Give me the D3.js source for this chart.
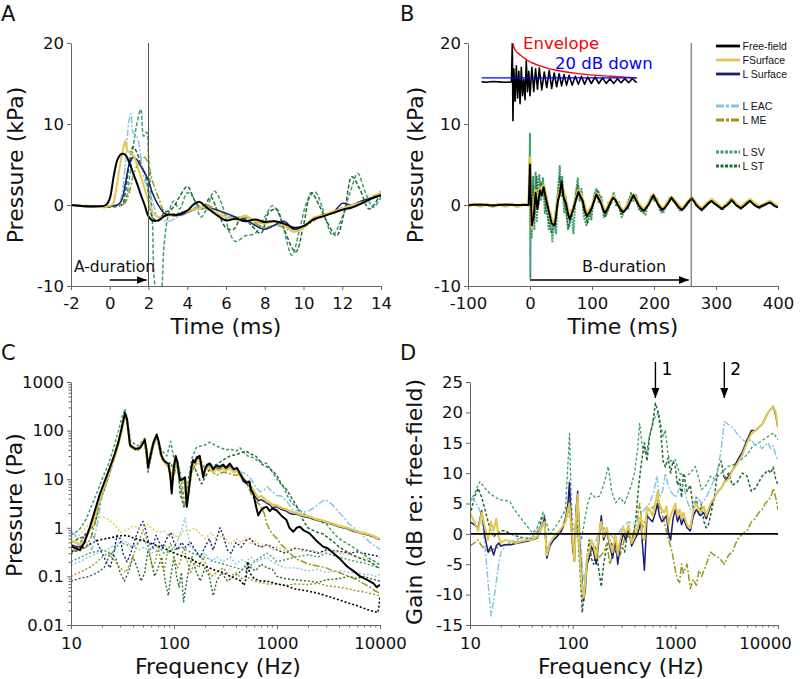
<!DOCTYPE html>
<meta charset="utf-8">
<head>
<style>
  body { margin: 0; background: #fff; }
  svg { font-family: "DejaVu Sans", Verdana, sans-serif; }
  .domain { stroke: #666; }
  .tick line { stroke: #666; }
  .tick text { font-size: 16.5px; fill: #111; font-family: "DejaVu Sans", Verdana, sans-serif; }
  .ttl { font-size: 22px; fill: #111; }
  .lbl { font-size: 21px; fill: #111; }
  .lg text { font-family: "Liberation Sans", Arial, sans-serif; font-size: 10.5px; fill: #111; }
  .note { font-size: 15.5px; fill: #111; }
</style>
<script src="https://cdn.jsdelivr.net/npm/d3@7"></script>
</head>
<body>
<script>
// ---------- tick labels ----------
var aXTicks = [-2, 0, 2, 4, 6, 8, 10, 12, 14];
var bXTicks = [-100, 0, 100, 200, 300, 400];
var abYTicks = [-10, 0, 10, 20];
var freqTicks = [10, 100, 1000, 10000];
var cYTicks = [0.01, 0.1, 1, 10, 100, 1000];
var dYTicks = [-15, -10, -5, 0, 5, 10, 15, 20, 25];
var legendNames = ["Free-field", "FSurface", "L Surface", "L EAC", "L ME", "L SV", "L ST"];

// ---------- A: time (ms), pressure (kPa) ----------
var aFF = [[-2,0],[-0.2,0],[0,0.8],[0.2,3.5],[0.4,5.6],[0.6,6.3],[0.8,6.2],[1.0,5.3],[1.2,4.0],[1.4,2.7],[1.6,1.3],[1.8,0],[2.0,-1.4],[2.2,-1.9],[2.5,-1.9],[2.8,-1.4],[3.0,-1.2],[3.5,-1.2],[4.0,-0.7],[4.3,0.0],[4.6,0.4],[5.0,-0.3],[5.5,-1.2],[6.0,-1.9],[6.5,-1.7],[7.0,-2.0],[7.5,-1.8],[8.0,-2.1],[8.5,-2.0],[9.0,-2.3],[9.5,-2.8],[10,-2.6],[10.5,-1.8],[11,-1.4],[11.5,-1.0],[12,-0.6],[12.5,-0.3],[13,0.2],[13.5,0.8],[14,1.2]];
var aFS = [[-2,0],[0.1,0],[0.3,1.5],[0.5,4.5],[0.7,7.0],[0.8,7.9],[0.9,6.8],[1.0,6.5],[1.2,6.2],[1.4,5.0],[1.6,3.5],[1.8,2.0],[2.0,0.5],[2.2,-0.8],[2.5,-1.5],[3.0,-1.3],[3.5,-1.2],[4.0,-0.8],[4.5,-0.5],[5.0,-0.3],[5.5,-1.0],[6.0,-1.5],[6.5,-1.8],[7.0,-1.3],[7.5,-2.0],[8.0,-2.3],[8.5,-2.0],[9.0,-2.5],[9.5,-3.3],[10,-2.8],[10.5,-1.6],[11,-1.3],[11.5,-0.8],[12,-0.5],[12.5,0],[13,0.3],[13.5,0.8],[14,1.5]];
var aLS = [[-2,0],[0.4,0],[0.6,0.5],[0.8,2.5],[1.0,5.0],[1.2,5.9],[1.4,5.6],[1.6,4.8],[1.8,4.0],[2.0,3.0],[2.2,1.5],[2.5,0.0],[2.8,-1.0],[3.0,-1.2],[3.5,-1.3],[4.0,-0.9],[4.5,-0.5],[5.0,-0.3],[5.5,-0.6],[6.0,-1.0],[6.5,-1.5],[7.0,-1.8],[7.5,-2.5],[8.0,-3.0],[8.5,-2.5],[9.0,-2.0],[9.5,-3.0],[10,-2.7],[10.5,-1.8],[11,-1.2],[11.5,-1.0],[12,0.2],[12.5,0],[13,0.5],[13.5,0.8],[14,1.2]];
var aEAC = [[-2,0],[0.4,0],[0.6,1],[0.8,5],[1.0,10.5],[1.1,11.3],[1.2,9],[1.4,8.5],[1.6,6],[1.8,3],[2.0,2],[2.2,0.5],[2.5,-1.5],[3.0,-2],[3.5,-1.5],[4.0,-1.0],[4.5,-0.2],[5.0,-0.5],[5.5,-1.2],[6.0,-1.3],[6.5,-1.8],[7.0,-2.0],[7.5,-2.5],[8.0,-3.0],[8.5,-2.5],[9.0,-2.5],[9.5,-3.0],[10,-2.5],[10.5,-1.8],[11,-1.5],[11.5,-0.8],[12,-0.3],[12.5,0],[13,0.2],[13.5,0.6],[14,1.8]];
var aME = [[-2,0],[0.6,0],[0.8,0.3],[1.0,1.5],[1.2,3.5],[1.4,4.8],[1.6,5.5],[1.8,5.9],[2.0,5.0],[2.2,3.0],[2.5,1.0],[2.8,-0.8],[3.0,-1.2],[3.5,-1.0],[4.0,-0.7],[4.5,-0.3],[5.0,0.0],[5.5,-0.5],[6.0,-1.2],[6.5,-1.5],[7.0,-1.5],[7.5,-2.2],[8.0,-2.8],[8.5,-2.5],[9.0,-2.8],[9.5,-3.3],[10,-2.8],[10.5,-2.0],[11,-1.2],[11.5,-1.0],[12,-0.6],[12.5,0],[13,0.5],[13.5,1.0],[14,1.5]];
var aSV = [[-2,0],[0.6,0],[0.8,0.5],[1.0,3],[1.2,7],[1.4,10],[1.6,11.8],[1.75,8.5],[1.9,9.0],[2.0,6],[2.2,-2],[2.4,-10.5],[2.6,-11],[2.8,-5],[3.0,-1.5],[3.3,0.5],[3.6,-0.5],[4.0,1.5],[4.3,1.0],[4.7,-1.5],[5.0,-0.5],[5.4,1.7],[5.8,0],[6.2,-3.5],[6.5,-4.5],[7.0,-3.8],[7.5,-3.5],[8.0,-1.5],[8.4,-0.1],[8.8,-1.5],[9.4,-6.2],[9.8,-3],[10.2,0.5],[10.6,1.6],[11.0,-0.5],[11.5,-3.7],[12.0,-1.5],[12.4,1.5],[12.8,3.9],[13.2,1.5],[13.6,-0.3],[14,1.0]];
var aST = [[-2,0],[0.6,0],[0.8,1.5],[1.0,5],[1.2,7.2],[1.4,6.5],[1.6,5],[1.8,4],[2.0,1.5],[2.2,-1.5],[2.5,-2],[2.8,-1],[3.2,-0.5],[3.6,1.0],[4.0,2.3],[4.4,0.5],[4.8,-0.5],[5.2,1.0],[5.6,-1],[6.0,-2.8],[6.4,-3.0],[6.8,-1.5],[7.3,-2.5],[7.8,-3.5],[8.2,-1.0],[8.6,-0.5],[9.0,-3],[9.6,-5.8],[10.0,-2.5],[10.4,1.5],[10.8,0],[11.2,-2.0],[11.7,-3.8],[12.1,-1],[12.5,3.5],[12.9,2],[13.4,-0.5],[14,1.5]];

// ---------- B: time (ms), pressure (kPa) ----------
var bFF = [[-100,0],[-80,0.05],[-60,-0.05],[-40,0.05],[-20,0],[-2,0],[0,5.0],[1,1.5],[3,-2.5],[6,-1.5],[9,1.5],[12,-0.5],[16,1.8],[19,1.2],[22,2.2],[25,1.0],[28,0.0],[31,-1.0],[35,-2.3],[40,-2.5],[43,-0.8],[45,0.5],[48,1.4],[51,2.9],[54,1.0],[58,0.2],[61,-1.0],[64,-1.8],[67,-1.2],[70,-0.5],[74,0.6],[78,1.6],[81,1.1],[85,0.5],[88,-0.6],[92,-1.4],[96,-0.9],[100,-0.3],[104,0.6],[107,1.3],[110,0.9],[114,0.3],[118,-0.6],[121,-1.0],[125,-0.5],[128,0.0],[131,0.5],[134,0.9],[138,0.6],[141,0.1],[146,-0.5],[150,-0.9],[154,-0.6],[158,-0.2],[163,0.6],[167,1.2],[171,0.6],[175,0.0],[180,-0.5],[184,-0.7],[188,-0.3],[191,0.0],[195,0.6],[199,1.2],[203,0.6],[206,0.1],[210,-0.3],[214,-0.6],[218,-0.3],[221,0.0],[225,0.5],[228,0.9],[232,0.5],[236,0.1],[240,-0.3],[245,-0.6],[249,-0.3],[253,0.1],[257,0.5],[261,0.8],[265,0.4],[268,0.0],[272,-0.3],[277,-0.6],[281,-0.3],[285,0.0],[289,0.3],[293,0.5],[297,0.2],[301,0.0],[306,-0.3],[310,-0.5],[314,-0.2],[318,0.0],[322,0.3],[325,0.6],[329,0.3],[332,0.0],[336,-0.2],[340,-0.4],[344,-0.2],[347,0.0],[351,0.3],[355,0.5],[359,0.2],[362,0.0],[366,-0.2],[370,-0.3],[374,-0.1],[378,0.0],[383,0.2],[387,0.3],[391,0.1],[394,-0.1],[400,-0.3]];
var bFS = [[-100,-0.2],[-90,0.1],[-80,-0.15],[-70,0.1],[-60,-0.2],[-50,0.1],[-40,-0.15],[-30,0.1],[-20,-0.2],[-10,0.1],[-2,0],[0,5.8],[1,1.5],[3,-2.8],[6,-1.0],[9,1.8],[12,-0.3],[16,2.0],[22,2.4],[28,0.2],[35,-2.0],[40,-2.2],[45,0.8],[51,2.6],[58,0.4],[64,-1.6],[70,-0.3],[78,1.8],[85,0.7],[92,-1.2],[100,-0.1],[107,1.4],[114,0.5],[121,-0.9],[128,0.2],[134,1.1],[141,0.3],[150,-0.8],[158,0.0],[167,1.3],[175,0.2],[184,-0.6],[191,0.2],[199,1.3],[206,0.3],[214,-0.5],[221,0.2],[228,1.0],[236,0.3],[245,-0.5],[253,0.3],[261,0.9],[268,0.2],[277,-0.5],[285,0.2],[293,0.7],[301,0.2],[310,-0.4],[318,0.2],[325,0.8],[332,0.2],[340,-0.3],[347,0.2],[355,0.7],[362,0.2],[370,-0.2],[378,0.1],[387,0.5],[394,0.1],[400,-0.2]];
var bSV = [[-100,0],[-2,0],[0,8.8],[0.5,-9],[1.5,3],[3,-4],[5,3.5],[7,-3],[9,4],[11,-2],[13,1],[15,3.8],[18,0.5],[21,3.3],[24,-1],[27,1],[30,-3],[33,-1],[36,-4.5],[39,-2],[42,-3.5],[45,1.5],[48,4.8],[50,1],[52,3.5],[55,-1],[58,1],[61,-3],[64,-2.5],[67,-0.5],[70,-3.5],[74,1.5],[77,3.3],[80,0.5],[83,2.0],[87,-1.5],[91,-2.5],[95,-0.5],[99,-1.8],[103,1.0],[107,2.0],[111,0.2],[115,1.0],[119,-1.5],[123,-1.2],[127,0.5],[131,0.2],[135,1.6],[139,-0.2],[143,0.5],[148,-1.5],[153,-0.6],[158,-0.5],[163,1.5],[167,0.5],[171,1.2],[176,-0.6],[181,-0.8],[186,-1.2],[191,0.3],[196,1.2],[200,0.5],[205,0.8],[210,-0.8],[215,-1.0],[220,0.2],[226,1.0],[230,0.6],[236,0.0],[243,-0.8],[250,-0.3],[256,0.5],[262,0.9],[268,0.2],[277,-0.7],[285,0.2],[293,0.6],[301,0.0],[310,-0.6],[318,0.1],[325,0.7],[332,0.0],[340,-0.5],[347,0.1],[355,0.5],[362,0.0],[370,-0.4],[378,0.0],[387,0.4],[394,0.0],[400,-0.3]];
var bST = [[-100,0],[-2,0],[0,4],[1,-3],[3,-1],[5,2.5],[8,-1],[11,3.5],[14,0],[18,2.8],[22,1.5],[26,-0.5],[30,-2],[35,-3.5],[40,-1.5],[44,1],[48,3.5],[52,2],[57,-0.5],[62,-2.8],[67,-1],[72,0.5],[77,2.5],[82,1],[88,-1],[93,-2.2],[99,-0.8],[105,1.5],[110,1.8],[116,0.3],[121,-1.5],[127,-0.5],[134,1.2],[140,0.5],[147,-1.2],[153,-0.5],[160,0.8],[166,1.4],[172,0.3],[180,-0.9],[188,-0.3],[196,1.0],[204,0.5],[212,-0.8],[220,0.0],[228,0.9],[236,0.2],[245,-0.6],[253,0.0],[261,0.8],[270,0.0],[280,-0.5],[290,0.3],[300,0.3],[310,-0.5],[320,0.1],[326,0.6],[336,-0.2],[345,-0.2],[355,0.5],[365,-0.1],[375,-0.2],[387,0.3],[400,-0.3]];
// inset: free-field trace shifted up, its envelope and the 20 dB down level
var bInset = [[-78,15.2],[-70,15.15],[-60,15.25],[-50,15.2],[-40,15.15],[-30,15.2],[-28.5,20],[-27.5,10.4],[-26,16.8],[-24,12.8],[-22,17.2],[-20,13.2],[-18,16.5],[-16,12.5],[-14,17.0],[-12,13.5],[-10,15.5],[-8,13.0],[-6,17.8],[-4,14.0],[-2,16.5],[0,13.5],[3,17.0],[6,14.0],[9,16.8],[12,14.3],[15,16.9],[19,14.2],[23,16.4],[27,14.5],[31,16.6],[35,14.4],[39,16.3],[43,14.6],[47,16.2],[51,14.7],[55,16.1],[59,14.8],[63,16.0],[68,14.8],[73,15.9],[78,14.9],[83,15.9],[88,14.9],[93,15.8],[99,15.0],[105,15.8],[111,15.0],[117,15.7],[123,15.0],[129,15.6],[135,15.0],[141,15.6],[147,15.1],[153,15.6],[159,15.1],[165,15.6],[172,15.1]];
var bEnvelope = [[-28,20],[-25,19.3],[-20,18.8],[-12,18.3],[-5,17.9],[5,17.5],[15,17.2],[27,16.9],[45,16.6],[75,16.25],[110,16.0],[140,15.85],[172,15.7]];
var bDown = [[-78,15.7],[172,15.7]];

// ---------- C: frequency (Hz), pressure (Pa) ----------
var cFF = [[10,0.42],[11,0.38],[12.2,0.35],[13.5,0.5],[15.3,1.05],[17,2.2],[19.1,5],[22,11],[24,18],[26.7,34],[29,60],[31,110],[33.4,230],[35,170],[37.4,50],[42,42],[46.7,44],[50,55],[52,65],[54,40],[56,18],[59,30],[63,55],[67.9,82],[71,60],[75,32],[78.8,25],[84,22],[88,21],[92,12],[95,5.1],[99,16],[104,30],[108,22],[114,9.5],[121,10],[128,11],[133,2.7],[138,5],[143,9.5],[148,18],[154,25],[160,22],[166,28],[178,30],[185,18],[192,11],[200,16],[210,20],[223,21],[240,16],[255,19],[279,18],[300,20],[320,17],[348,21],[380,16],[410,17],[437,13],[470,10],[508,8.5],[540,9],[560,6],[590,5.1],[620,3],[658,1.8],[700,2.3],[750,2.6],[795,2.7],[850,2.2],[900,2.5],[990,2.3],[1100,1.8],[1235,1.45],[1320,1.0],[1440,0.83],[1550,1.0],[1670,1.05],[1800,0.9],[2070,0.77],[2400,0.55],[2800,0.41],[3100,0.38],[3530,0.3],[4000,0.24],[4800,0.16],[5500,0.13],[6420,0.1],[7500,0.085],[8640,0.072],[9300,0.06],[10000,0.067]];
var cFS = [[10,0.55],[11,0.5],[12.2,0.45],[13.5,0.55],[15.3,0.95],[17,1.8],[19.1,4.2],[22,9.5],[24,16],[26.7,30],[29,55],[31,100],[33.4,210],[35,165],[37.4,52],[42,40],[46.7,46],[50,58],[52,60],[54,38],[56,20],[59,32],[63,58],[67.9,78],[71,58],[75,30],[78.8,24],[84,20],[88,19],[92,13],[95,8],[99,18],[104,28],[108,20],[114,9],[121,9],[128,10],[133,3],[138,6],[143,10],[148,17],[154,22],[160,20],[166,24],[178,25],[185,17],[192,12],[200,15],[210,17],[223,18],[240,14],[255,16],[279,15],[300,17],[320,15],[348,17],[380,14],[410,15],[437,12],[470,10],[508,9],[540,8],[560,7],[590,6],[620,5],[658,4.2],[700,4.5],[750,4.0],[795,3.5],[850,3.3],[900,3.0],[990,2.9],[1100,2.6],[1235,2.4],[1320,2.2],[1440,2.1],[1550,2.0],[1670,1.9],[1800,1.8],[2070,1.7],[2400,1.5],[2800,1.4],[3100,1.3],[3530,1.2],[4000,1.1],[4800,1.0],[5500,0.9],[6420,0.8],[7500,0.75],[8640,0.68],[9300,0.62],[10000,0.6]];
var cLS = [[10,0.45],[11,0.42],[12.2,0.4],[13.5,0.5],[15.3,1.0],[17,2.0],[19.1,4.6],[22,10],[24,17],[26.7,32],[29,58],[31,105],[33.4,220],[35,168],[37.4,50],[42,41],[46.7,45],[50,56],[52,62],[54,39],[56,17],[59,31],[63,56],[67.9,80],[71,59],[75,31],[78.8,24],[84,21],[88,20],[92,12],[95,6],[99,17],[104,29],[108,21],[114,9],[121,9.5],[128,10],[133,2.8],[138,5.5],[143,10],[148,17],[154,23],[160,21],[166,26],[178,27],[185,17],[192,11],[200,15],[210,18],[223,19],[240,14],[255,17],[279,16],[300,18],[320,15],[348,18],[380,14],[410,15],[437,12],[470,9],[508,8],[540,7.5],[560,6],[590,5],[620,4.3],[658,3.6],[700,3.8],[750,3.5],[795,3.2],[850,3.0],[900,2.6],[990,2.7],[1100,2.4],[1235,2.2],[1320,2.0],[1440,1.9],[1550,1.9],[1670,1.8],[1800,1.7],[2070,1.6],[2400,1.45],[2800,1.35],[3100,1.25],[3530,1.15],[4000,1.05],[4800,0.95],[5500,0.85],[6420,0.78],[7500,0.72],[8640,0.65],[9300,0.6],[10000,0.58]];
var cEAC = [[10,0.85],[12,0.6],[14,0.5],[16,0.35],[18,1.2],[20,4.5],[24,15],[27,32],[30,80],[33.4,220],[35,160],[38,48],[45,42],[50,58],[52,62],[56,16],[60,30],[68,80],[75,32],[85,22],[93,18],[100,16],[108,25],[115,12],[125,8],[133,3.5],[140,7],[150,18],[165,25],[180,25],[200,18],[230,20],[260,17],[300,19],[350,18],[400,16],[450,14],[500,13],[560,10],[620,7],[680,5.5],[750,6],[800,7],[900,5.5],[1000,4.6],[1100,4.5],[1250,3.5],[1400,2.4],[1600,2.2],[1800,2.1],[2000,2.2],[2300,2.6],[2600,3.2],[2900,3.8],[3100,3.6],[3500,2.9],[4000,2.1],[4500,1.6],[5000,1.2],[6000,0.9],[7000,0.65],[8000,0.5],[9000,0.42],[10000,0.36]];
var cME = [[10,0.35],[12,0.33],[14,0.4],[16,0.7],[19,3.5],[22,8],[26,28],[30,80],[33.4,200],[35,150],[38,45],[45,40],[52,60],[56,15],[63,50],[68,75],[75,30],[85,20],[93,14],[100,12],[108,22],[115,8],[125,3],[133,3],[140,6],[150,15],[170,22],[200,17],[230,15],[260,12],[300,14],[350,13],[400,12],[450,13],[500,9],[560,5],[620,3.5],[680,3.0],[750,2.0],[800,1.2],[850,0.9],[900,0.75],[1000,0.6],[1100,0.45],[1250,0.35],[1400,0.27],[1600,0.22],[1800,0.2],[2000,0.18],[2300,0.17],[2600,0.16],[3000,0.15],[3500,0.13],[4000,0.12],[5000,0.1],[6000,0.085],[7000,0.07],[8000,0.06],[9000,0.05],[10000,0.045]];
var cSV = [[10,0.7],[12,0.9],[14,1.5],[16,3],[18,5.5],[20,10],[23,20],[26,45],[29,100],[31,180],[33.4,280],[35,180],[38,60],[45,48],[50,62],[52,70],[56,22],[63,60],[68,85],[75,40],[85,30],[93,60],[100,25],[108,24],[115,14],[125,4],[133,3],[140,12],[150,28],[165,45],[180,48],[200,50],[223,58],[250,50],[280,45],[320,40],[350,42],[400,38],[440,44],[480,35],[520,30],[580,28],[650,24],[720,22],[800,21],[900,14],[1000,10],[1150,7],[1300,4],[1450,3],[1670,2.3],[1900,1.8],[2200,1.5],[2500,1.4],[3000,1.2],[3500,0.8],[4000,0.6],[5000,0.45],[6000,0.35],[7000,0.28],[8000,0.23],[9000,0.2],[10000,0.17]];
var cST = [[10,0.5],[12,0.6],[14,0.7],[17,1.2],[20,4.5],[24,14],[27,32],[30,80],[33.4,220],[35,160],[38,48],[45,40],[52,58],[56,14],[63,50],[68,75],[75,28],[85,20],[93,22],[100,15],[108,20],[115,5],[125,2.7],[133,4],[140,12],[155,20],[170,12],[185,8],[200,11],[230,18],[260,20],[300,25],[350,30],[400,32],[450,35],[500,38],[560,33],[620,30],[680,24],[720,20],[800,18],[900,15],[1000,12],[1100,8],[1250,6],[1400,4],[1600,2.5],[1800,1.4],[2000,1.0],[2200,0.9],[2500,0.8],[2800,0.75],[3200,0.6],[3600,0.5],[4000,0.4],[5000,0.3],[6000,0.25],[7000,0.22],[8000,0.2],[9000,0.17],[10000,0.14]];
// C noise floors (dotted)
var cFFn = [[10,0.32],[12,0.35],[15,0.45],[18,0.55],[22,0.6],[27,0.65],[32,0.7],[36,0.68],[42,0.6],[50,0.55],[60,0.48],[70,0.42],[80,0.38],[95,0.32],[110,0.28],[130,0.25],[150,0.22],[180,0.18],[220,0.15],[260,0.13],[300,0.12],[350,0.1],[400,0.09],[450,0.08],[480,0.065],[500,0.09],[520,0.2],[540,0.12],[600,0.09],[700,0.08],[800,0.08],[900,0.075],[1000,0.07],[1200,0.065],[1500,0.055],[2000,0.05],[2500,0.045],[3000,0.04],[4000,0.033],[5000,0.028],[6000,0.025],[7000,0.022],[8000,0.02],[9500,0.018],[9800,0.025],[10000,0.04]];
var cFSn = [[10,0.6],[12,0.7],[15,1.2],[18,1.6],[20,1.7],[23,1.5],[27,1.1],[30,0.8],[35,0.9],[40,1.1],[45,1.0],[50,0.9],[55,1.2],[60,1.0],[70,0.8],[80,0.85],[90,0.65],[100,0.75],[110,0.6],[125,0.9],[140,0.85],[160,1.0],[180,0.75],[200,0.6],[230,0.8],[260,0.55],[300,0.7],[350,0.45],[400,0.6],[450,0.5],[500,0.65],[560,0.45],[620,0.55],[700,0.4],[800,0.45],[900,0.35],[1000,0.4],[1200,0.33],[1500,0.4],[1800,0.32],[2200,0.35],[2700,0.3],[3200,0.35],[4000,0.3],[5000,0.28],[6000,0.25],[7000,0.24],[8000,0.22],[9000,0.2],[10000,0.18]];
var cLSn = [[10,0.28],[12,0.45],[14,0.8],[16,0.75],[18,0.5],[20,0.3],[22,0.2],[24,0.15],[26,0.3],[28,0.7],[30,0.6],[32,0.3],[35,0.2],[38,0.3],[42,0.6],[46,1.0],[50,1.35],[53,0.9],[57,0.5],[62,0.4],[67,0.7],[72,0.5],[78,0.4],[85,0.6],[93,0.8],[100,0.5],[108,0.35],[118,0.5],[130,0.4],[145,0.5],[160,0.35],[180,0.25],[200,0.4],[220,0.6],[240,0.35],[260,0.6],[280,1.0],[300,0.7],[330,0.35],[360,0.3],[400,0.5],[450,0.4],[500,0.55],[550,0.6],[620,0.45],[700,0.4],[800,0.45],[900,0.4],[1000,0.35],[1200,0.3],[1500,0.38],[2000,0.34],[2500,0.3],[3000,0.35],[4000,0.33],[5000,0.3],[6000,0.32],[7000,0.3],[8000,0.28],[9000,0.27],[10000,0.25]];
var cEACn = [[10,0.17],[12,0.2],[15,0.25],[18,0.3],[22,0.35],[27,0.45],[32,0.55],[38,0.45],[45,0.35],[52,0.4],[60,0.3],[70,0.35],[80,0.45],[90,0.3],[100,0.4],[110,0.6],[120,1.0],[128,1.6],[135,0.8],[145,0.4],[160,0.35],[180,0.25],[200,0.3],[230,0.2],[260,0.25],[300,0.2],[350,0.25],[400,0.18],[450,0.22],[500,0.2],[560,0.25],[620,0.2],[700,0.22],[800,0.25],[900,0.2],[1000,0.18],[1200,0.15],[1500,0.15],[2000,0.13],[2500,0.14],[3000,0.12],[4000,0.13],[5000,0.12],[6000,0.12],[7000,0.11],[8000,0.11],[9000,0.1],[10000,0.11]];
var cMEn = [[10,0.1],[12,0.12],[15,0.15],[18,0.2],[20,0.25],[23,0.3],[26,0.22],[30,0.15],[34,0.12],[38,0.2],[42,0.35],[46,0.55],[50,0.9],[54,0.6],[58,0.3],[62,0.15],[66,0.2],[70,0.4],[75,0.2],[80,0.12],[86,0.3],[93,0.5],[100,0.25],[108,0.15],[115,0.2],[125,0.4],[135,0.2],[145,0.12],[160,0.2],[175,0.15],[190,0.25],[210,0.15],[230,0.1],[260,0.12],[300,0.15],[350,0.1],[400,0.12],[450,0.09],[500,0.1],[600,0.08],[700,0.075],[800,0.07],[1000,0.07],[1200,0.065],[1500,0.07],[2000,0.068],[2500,0.072],[3000,0.065],[4000,0.06],[5000,0.055],[6000,0.05],[7000,0.048],[8000,0.045],[9000,0.042],[10000,0.04]];
var cSVn = [[10,0.2],[15,0.3],[20,0.35],[25,0.3],[30,0.5],[40,0.4],[50,0.6],[60,0.35],[70,0.45],[80,0.3],[100,0.35],[120,0.4],[150,0.3],[200,0.25],[250,0.2],[300,0.18],[400,0.15],[500,0.13],[600,0.2],[700,0.25],[800,0.3],[900,0.25],[1000,0.2],[1200,0.22],[1500,0.25],[2000,0.28],[2500,0.25],[3000,0.3],[4000,0.25],[5000,0.22],[6000,0.2],[7000,0.19],[8000,0.17],[9000,0.16],[10000,0.15]];
var cSTn = [[10,0.08],[12,0.09],[15,0.1],[18,0.12],[21,0.15],[24,0.3],[27,0.25],[30,0.12],[33,0.08],[36,0.12],[40,0.25],[44,0.15],[48,0.08],[52,0.12],[56,0.35],[60,0.2],[65,0.1],[70,0.15],[76,0.25],[82,0.08],[88,0.04],[93,0.1],[100,0.25],[106,0.1],[112,0.06],[118,0.12],[124,0.03],[130,0.06],[140,0.15],[150,0.25],[165,0.12],[180,0.08],[200,0.15],[220,0.1],[240,0.04],[260,0.08],[290,0.12],[330,0.08],[380,0.1],[430,0.12],[480,0.15],[520,0.2],[560,0.15],[620,0.13],[700,0.18],[800,0.15],[900,0.14],[1000,0.1],[1200,0.09],[1500,0.085],[2000,0.08],[2500,0.075],[3000,0.085],[4000,0.09],[5000,0.1],[6000,0.09],[7000,0.1],[8000,0.09],[9000,0.085],[10000,0.08]];

// ---------- D: frequency (Hz), gain (dB re free-field) ----------
var dFS = [[10,3.5],[11,2],[12,0.5],[13,3.5],[14,1],[15,-1],[16,2],[17,0.5],[18,2.5],[19,-0.5],[20,-1.5],[22,-1],[25,-1.2],[28,-1.5],[32,-1.2],[36,-1],[40,-1],[45,-0.5],[50,1],[53,2],[56,-3.5],[60,-1.5],[65,-0.5],[70,0],[78,1],[85,2],[90,4],[93,5],[96,2],[100,-1],[104,-4.5],[108,3],[112,6.5],[116,-2],[122,-8],[128,-10.5],[133,-8],[138,-4],[145,-3],[152,-1],[160,-2],[170,-4],[180,0],[190,2],[200,-0.5],[215,1],[230,-1.5],[245,-3],[260,0],[275,-3.5],[290,-1],[310,1],[330,0],[350,1.5],[375,-1.5],[400,-0.5],[430,1],[460,3],[480,-0.5],[500,-1],[530,4.5],[560,4],[600,3],[640,5],[670,7],[700,5],[740,4],[780,3.5],[820,4.5],[860,1.5],[900,3],[950,4],[1000,5],[1050,3],[1100,4],[1150,2.5],[1200,3.5],[1300,1.5],[1400,1],[1500,4],[1600,5],[1750,3.5],[1900,4.5],[2000,3],[2200,5],[2400,6],[2600,7],[2800,7.5],[3000,8.5],[3300,9],[3600,10.5],[4000,11.5],[4500,13],[5000,15],[5500,16.5],[6000,17],[6500,17.5],[7000,18],[7500,19],[8000,20],[8500,20.5],[9000,21],[9500,20],[10000,17.5]];
var dLS = [[10,2],[11,1.5],[12,1],[13,3.8],[14,-0.5],[15,-3],[16,-2],[17,-3.5],[18,-2],[19,-1.5],[20,-2],[22,-1.8],[25,-1.8],[28,-1.6],[32,-1.4],[36,-1.2],[40,-1.0],[45,-0.7],[50,1],[53,2.5],[56,-4],[60,-2],[65,-1],[70,-0.5],[78,0.5],[85,2.5],[90,5],[93,8.5],[96,3],[100,-2],[104,-4.5],[108,4],[112,7],[116,-1],[122,-7],[128,-11],[133,-9],[138,-5],[145,-4],[152,-2],[160,-3],[170,-5],[180,-1],[190,3],[200,-1],[215,0.5],[230,-2],[245,-4],[260,-1],[275,-5],[290,-2],[310,0],[330,-1],[350,1],[375,-2],[400,-1],[430,0],[460,2],[480,-2],[500,-6],[530,3],[560,2.5],[600,2],[640,3.5],[670,5],[700,3],[740,2],[780,2.5],[820,3],[860,0],[900,-1],[950,2.5],[1000,4],[1050,2],[1100,3],[1150,1.5],[1200,2.5],[1300,1],[1400,0.5],[1500,3],[1600,4],[1750,3],[1900,3.5],[2000,2.5],[2200,4.5],[2400,6],[2600,7],[2800,7.5],[3000,8.5],[3300,9.5],[3600,10.5],[4000,12],[4500,13.5],[5000,15.5],[5500,17],[6000,17],[6500,17.5],[7000,18],[7500,19],[8000,20],[8500,20.5],[9000,21],[9500,19.5],[10000,17.5]];
var dEAC = [[10,6],[11,5.5],[12,4.5],[13,3],[14,-2],[15,-8],[16,-13.5],[17,-11],[18,-8],[19,-5],[20,-3],[22,-2],[25,-1.2],[30,-0.8],[40,-0.6],[50,1.5],[53,2.5],[56,-3.5],[60,-1.5],[70,-0.5],[80,1],[90,4],[93,7],[96,2],[100,-1.5],[104,-3],[108,4.5],[112,6],[118,0],[125,-6],[130,-8],[138,-4],[150,-2],[165,-1.5],[180,0],[200,1],[230,0],[260,-1],[300,1],[350,2],[400,1.5],[450,3],[500,4],[560,5],[620,7],[660,9.5],[700,6],[750,7],[800,10],[850,8],[900,7],[1000,6],[1100,7.5],[1200,8],[1300,5.5],[1400,4],[1500,5],[1650,6],[1800,5],[2000,6],[2200,7.5],[2400,9],[2600,10.5],[2800,14],[3000,18.5],[3300,18],[3600,17.5],[4000,16.5],[4500,15.5],[5000,15],[5500,15.5],[6000,14.5],[6500,15],[7000,14],[7500,14.5],[8000,15],[8500,14],[9000,14.5],[9500,13],[10000,12]];
var dME = [[10,-2],[11,-1.5],[12,-1],[13,-2],[14,-2.5],[15,-3],[17,-2.5],[20,-2],[25,-1.5],[30,-1.2],[40,-0.8],[50,1.5],[53,2],[56,-3],[60,-1.5],[70,-0.5],[80,1],[90,3],[93,6],[96,1],[100,-2.5],[104,-4.5],[108,3],[112,5.5],[118,-2],[125,-9],[130,-10],[138,-5],[150,-3],[165,-2],[180,-4],[200,-3],[215,-1.5],[230,-5],[260,-2],[290,-3.5],[330,0],[380,-1],[420,2],[450,5],[480,1],[500,2],[560,4],[620,4.5],[670,5.5],[720,4],[780,2],[830,0],[880,-1.5],[930,-3],[1000,-6],[1050,-7.5],[1100,-8],[1150,-5],[1200,-6.5],[1300,-5],[1400,-9],[1500,-7.5],[1600,-8.5],[1700,-6],[1800,-7],[2000,-5],[2200,-3],[2400,-3.5],[2700,-4],[3000,-5],[3300,-3.5],[3600,-3],[4000,-1],[4500,0],[5000,0.5],[5500,2],[6000,2.5],[6500,3.5],[7000,4],[7500,5],[8000,5.5],[8500,6],[9000,7.5],[9500,6],[10000,4]];
var dSV = [[10,5.3],[11,6.5],[12,8],[12.5,8.6],[14,7.5],[16,6.5],[19.5,5.6],[22,5.5],[24.5,5.3],[27,4],[30.6,2.8],[35,1.5],[41,0.1],[45,1],[51.6,3.6],[55,2],[59.8,0],[67,1],[74.7,2.2],[85,4],[93.3,16.5],[97,5],[100.5,0.7],[110,1.5],[121.6,-1],[130,2],[140,5],[152,6.7],[165,6],[183,6.2],[200,8],[222,11.1],[240,7],[263,5.1],[290,6],[320,5],[373,8],[400,10],[430,14],[449,18.2],[480,14],[523,13.2],[560,16],[612,18.8],[650,19.5],[685,20],[720,18],[760,16],[798,17.1],[850,13],[900,12],[1000,12.2],[1100,10],[1250,9.4],[1400,10],[1570,11.1],[1700,9],[1800,7.3],[2000,8],[2200,9.5],[2440,9],[2800,10],[3250,11.1],[3800,11.5],[4360,12.2],[5000,13],[5640,14.4],[6500,15],[7930,16],[9040,16.6],[10000,15.5]];
var dST = [[10,3],[11,6],[12,7.5],[13,6],[14,4],[15,2],[16,0.5],[17,-0.5],[18,0],[20,0.5],[22,0.5],[25,0],[30,-0.5],[35,-0.7],[40,-0.8],[45,-0.5],[50,2.5],[53,3],[56,-3],[60,-1.5],[70,-0.5],[80,1],[90,4],[93,6],[97,1],[100,-1],[105,-3],[110,4],[115,-3],[120,-8],[124,-13],[130,-9],[138,-4],[145,-1],[152,-4],[160,-5],[170,-3],[180,-6],[190,-8.7],[200,-5],[215,-2],[230,-1],[260,-3],[290,-1.5],[320,-3],[350,1],[380,-1],[410,2],[440,8],[470,12],[500,15],[530,12],[560,16],[600,18],[640,21.5],[680,20],[720,17],[760,12],[800,11],[850,12.5],[900,10],[950,12],[1000,11],[1050,8],[1100,9],[1150,6],[1200,10],[1300,7],[1400,8],[1500,4],[1600,6],[1700,3],[1800,5],[1900,2],[2000,1],[2100,1.5],[2200,3],[2400,6],[2600,11],[2800,12],[3000,9],[3300,10],[3600,8],[4000,8.5],[4500,10],[5000,9.5],[5500,7],[6000,7.5],[6500,8.5],[7000,9.5],[7500,10],[8000,10.5],[8500,10],[9000,11],[9500,9],[10000,8]];
var dArrows = [[640, "1"], [3000, "2"]];

// ---------- styles ----------
var sty = {
  ff:  { c: "#000000", w: 2,   d: null },
  fs:  { c: "#e3c850", w: 2,   d: null },
  ls:  { c: "#1c1c7a", w: 1.5, d: null },
  eac: { c: "#88c6df", w: 1.5, d: "7,2,2,2" },
  me:  { c: "#98981a", w: 1.5, d: "7,2,2,2" },
  sv:  { c: "#3d9e72", w: 1.5, d: "4,2" },
  st:  { c: "#236a2e", w: 1.5, d: "4,2" }
};

var svg = d3.select("body").append("svg").attr("width", 800).attr("height", 679);
var defs = svg.append("defs");
defs.append("marker").attr("id", "ah").attr("viewBox", "0 0 10 8")
    .attr("refX", 10).attr("refY", 4).attr("markerWidth", 10).attr("markerHeight", 8)
    .attr("markerUnits", "userSpaceOnUse").attr("orient", "auto")
  .append("path").attr("d", "M0,0L10,4L0,8z").attr("fill", "#000");

function clip(id, x, y) {
  defs.append("clipPath").attr("id", id).append("rect")
      .attr("x", x.range()[0]).attr("y", y.range()[1])
      .attr("width", x.range()[1] - x.range()[0]).attr("height", y.range()[0] - y.range()[1]);
}

function trace(g, x, y, data, s, opt) {
  opt = opt || {};
  var line = d3.line().curve(opt.curve || d3.curveLinear).x(function(d){ return x(d[0]); }).y(function(d){ return y(d[1]); });
  g.append("path").datum(data).attr("d", line)
   .attr("fill", "none").attr("stroke", opt.c || s.c)
   .attr("stroke-width", opt.w || s.w)
   .attr("stroke-dasharray", opt.d !== undefined ? opt.d : s.d)
   .attr("stroke-linejoin", "round");
}

function axes(x, y, xt, yt, pad, logAxes) {
  var fmt = function(d){ return String(d); };
  var gx = svg.append("g").attr("transform", "translate(0," + y.range()[0] + ")")
     .call(d3.axisBottom(x).tickValues(xt).tickSize(4).tickSizeOuter(0).tickPadding(pad).tickFormat(fmt));
  var gy = svg.append("g").attr("transform", "translate(" + x.range()[0] + ",0)")
     .call(d3.axisLeft(y).tickValues(yt).tickSize(4).tickSizeOuter(0).tickPadding(3).tickFormat(fmt));
  if (logAxes) {
    var minor = function(dom){ var m = []; for (var p = dom[0]; p < dom[1]; p *= 10) for (var k = 2; k < 10; k++) m.push(p * k); return m; };
    svg.append("g").attr("transform", "translate(0," + y.range()[0] + ")")
       .call(d3.axisBottom(x).tickValues(minor(x.domain())).tickSize(2.5).tickFormat("")).select(".domain").remove();
    if (logAxes === 2)
      svg.append("g").attr("transform", "translate(" + x.range()[0] + ",0)")
         .call(d3.axisLeft(y).tickValues(minor(y.domain())).tickSize(2.5).tickFormat("")).select(".domain").remove();
  }
  return gx;
}

function titles(xt, xx, xy, yt, yx, yy) {
  svg.append("text").attr("class", "ttl").attr("x", xx).attr("y", xy).attr("text-anchor", "middle").text(xt);
  svg.append("text").attr("class", "ttl").attr("transform", "translate(" + yx + "," + yy + ")rotate(-90)")
     .attr("text-anchor", "middle").text(yt);
}

// ---------- panel A ----------
var xA = d3.scaleLinear().domain([-2, 14]).range([71, 381]);
var yA = d3.scaleLinear().domain([-10, 20]).range([286, 43]);
clip("cA", xA, yA);
var gA = svg.append("g").attr("clip-path", "url(#cA)");
var smooth = { curve: d3.curveCatmullRom };
trace(gA, xA, yA, aSV, sty.sv, smooth);
trace(gA, xA, yA, aST, sty.st, smooth);
trace(gA, xA, yA, aME, sty.me, smooth);
trace(gA, xA, yA, aEAC, sty.eac, smooth);
trace(gA, xA, yA, aLS, sty.ls, smooth);
trace(gA, xA, yA, aFS, sty.fs, smooth);
trace(gA, xA, yA, aFF, sty.ff, smooth);
svg.append("line").attr("x1", xA(2)).attr("x2", xA(2)).attr("y1", yA(20)).attr("y2", yA(-10)).attr("stroke", "#555").attr("stroke-width", 1);
axes(xA, yA, aXTicks, abYTicks, 7);
svg.append("text").attr("class", "note").attr("x", 74).attr("y", 272).text("A-duration");
svg.append("line").attr("x1", xA(0)).attr("x2", xA(1.9)).attr("y1", 280).attr("y2", 280)
   .attr("stroke", "#000").attr("stroke-width", 1.3).attr("marker-end", "url(#ah)");
titles("Time (ms)", 226, 334, "Pressure (kPa)", 23, 165);
svg.append("text").attr("class", "lbl").attr("x", 1).attr("y", 21).text("A");

// ---------- panel B ----------
var xB = d3.scaleLinear().domain([-100, 400]).range([468, 778]);
var yB = d3.scaleLinear().domain([-10, 20]).range([286, 43]);
clip("cB", xB, yB);
var gB = svg.append("g").attr("clip-path", "url(#cB)");
trace(gB, xB, yB, bSV, sty.sv, { w: 2, d: "2,1" });
trace(gB, xB, yB, bST, sty.st, { w: 1.5, d: "2,1" });
trace(gB, xB, yB, bFS, sty.fs, { w: 3 });
trace(gB, xB, yB, bFF, sty.ff, { w: 2 });
trace(gB, xB, yB, bInset, sty.ff, { w: 1.6 });
trace(gB, xB, yB, bEnvelope, sty.ff, { c: "#ff0000", w: 1.4, curve: d3.curveMonotoneX });
trace(gB, xB, yB, bDown, sty.ff, { c: "#0000ff", w: 1.4 });
svg.append("line").attr("x1", xB(260)).attr("x2", xB(260)).attr("y1", yB(20)).attr("y2", yB(-10)).attr("stroke", "#555").attr("stroke-width", 1);
axes(xB, yB, bXTicks, abYTicks, 7);
svg.append("text").attr("x", 523).attr("y", 49).attr("fill", "#ff0000").style("font-size", "16.5px").text("Envelope");
svg.append("text").attr("x", 555).attr("y", 69).attr("fill", "#0000ff").style("font-size", "16.5px").text("20 dB down");
svg.append("text").attr("class", "note").attr("x", 582).attr("y", 272).style("font-size", "16px").text("B-duration");
svg.append("line").attr("x1", xB(0)).attr("x2", xB(256)).attr("y1", 280).attr("y2", 280)
   .attr("stroke", "#000").attr("stroke-width", 1.6).attr("marker-end", "url(#ah)");
titles("Time (ms)", 623, 334, "Pressure (kPa)", 423, 165);
svg.append("text").attr("class", "lbl").attr("x", 400).attr("y", 21).text("B");

// legend
var lgKeys = ["ff", "fs", "ls", "eac", "me", "sv", "st"];
var lgDash = [null, null, null, "8,2,3,2", "8,2,3,2", "3,1.5", "3,1.5"];
var lgY = [46, 60, 74, 106, 120, 152, 166];
var lg = svg.append("g").attr("class", "lg");
lgKeys.forEach(function(k, i) {
  lg.append("line").attr("x1", 716).attr("x2", 740).attr("y1", lgY[i]).attr("y2", lgY[i])
    .attr("stroke", sty[k].c).attr("stroke-width", 2.8).attr("stroke-dasharray", lgDash[i]);
  lg.append("text").attr("x", 742.5).attr("y", lgY[i]).attr("dy", "0.36em").text(legendNames[i]);
});

// ---------- panel C ----------
var xC = d3.scaleLog().domain([10, 10000]).range([71, 380]);
var yC = d3.scaleLog().domain([0.01, 1000]).range([625, 382]);
clip("cC", xC, yC);
var gC = svg.append("g").attr("clip-path", "url(#cC)");
var dot = { d: "2,2", w: 1.4 };
trace(gC, xC, yC, cSTn, sty.st, dot);
trace(gC, xC, yC, cMEn, sty.me, dot);
trace(gC, xC, yC, cSVn, sty.sv, dot);
trace(gC, xC, yC, cEACn, sty.eac, dot);
trace(gC, xC, yC, cLSn, sty.ls, dot);
trace(gC, xC, yC, cFSn, sty.fs, dot);
trace(gC, xC, yC, cFFn, sty.ff, { d: "2,2", w: 1.6 });
trace(gC, xC, yC, cSV, sty.sv, { d: "3,2" });
trace(gC, xC, yC, cST, sty.st, { d: "3,2" });
trace(gC, xC, yC, cME, sty.me);
trace(gC, xC, yC, cEAC, sty.eac);
trace(gC, xC, yC, cLS, sty.ls);
trace(gC, xC, yC, cFS, sty.fs, { w: 2.4 });
trace(gC, xC, yC, cFF, sty.ff);
axes(xC, yC, freqTicks, cYTicks, 8, 2);
titles("Frequency (Hz)", 218, 674, "Pressure (Pa)", 22, 505);
svg.append("text").attr("class", "lbl").attr("x", 1).attr("y", 360).text("C");

// ---------- panel D ----------
var xD = d3.scaleLog().domain([10, 10000]).range([470, 778]);
var yD = d3.scaleLinear().domain([-15, 25]).range([625, 382]);
clip("cD", xD, yD);
var gD = svg.append("g").attr("clip-path", "url(#cD)");
trace(gD, xD, yD, dSV, sty.sv, { d: "3,2", w: 1.3 });
trace(gD, xD, yD, dST, sty.st, { d: "3,2" });
trace(gD, xD, yD, dME, sty.me);
trace(gD, xD, yD, dEAC, sty.eac);
trace(gD, xD, yD, dLS, sty.ls);
trace(gD, xD, yD, dFS, sty.fs);
svg.append("line").attr("x1", xD(10)).attr("x2", xD(10000)).attr("y1", yD(0)).attr("y2", yD(0)).attr("stroke", "#000").attr("stroke-width", 1.8);
var gxD = axes(xD, yD, freqTicks, dYTicks, 8, 1);
// keep the last frequency label inside the picture, as the original does
gxD.selectAll(".tick text").filter(function(d){ return d === 10000; }).attr("dx", -13);
dArrows.forEach(function(a) {
  svg.append("line").attr("x1", xD(a[0])).attr("x2", xD(a[0])).attr("y1", 362).attr("y2", 398)
     .attr("stroke", "#000").attr("stroke-width", 1.4).attr("marker-end", "url(#ah)");
  svg.append("text").attr("x", xD(a[0]) + 6).attr("y", 375).style("font-size", "17px").text(a[1]);
});
titles("Frequency (Hz)", 621, 674, "Gain (dB re: free-field)", 422, 502);
svg.append("text").attr("class", "lbl").attr("x", 400).attr("y", 360).text("D");
</script>
</body>
